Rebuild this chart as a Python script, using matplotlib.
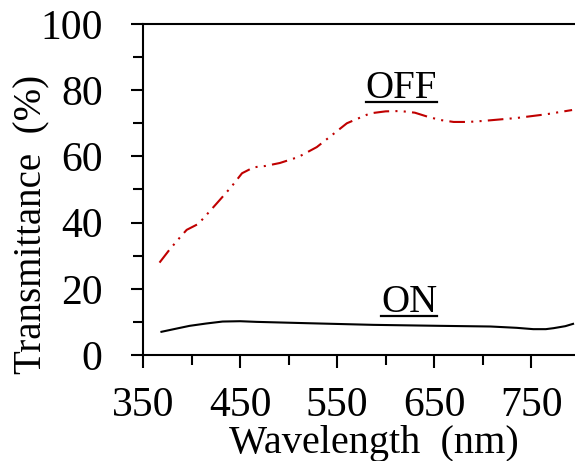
import matplotlib
matplotlib.use("Agg")
from matplotlib import pyplot as plt
from matplotlib.lines import Line2D
from matplotlib.ticker import MultipleLocator

plt.rcParams['font.family'] = ['Liberation Serif', 'DejaVu Serif']

# OFF state (dash-dot-dot, red)
wl_off = [367, 377, 388, 395, 407, 419, 429, 441, 452, 464, 476, 491, 510, 529,
          545, 560, 584, 600, 615, 630, 643, 656, 670, 685, 700, 735, 765, 792]
t_off = [27.9, 31.7, 35.5, 37.8, 39.6, 43.5, 46.8, 50.8, 54.9, 56.7, 57.1, 58.0, 59.8, 62.8,
         66.5, 70.0, 73.0, 73.6, 73.7, 73.2, 72.0, 71.0, 70.4, 70.4, 70.7, 71.6, 72.7, 74.0]

# ON state (solid, black)
wl_on = [369, 385, 398, 415, 432, 450, 467, 519, 587, 656, 708, 735, 752, 765, 773, 785, 793]
t_on = [7.0, 8.0, 8.8, 9.5, 10.1, 10.2, 10.0, 9.6, 9.1, 8.8, 8.6, 8.2, 7.8, 7.8, 8.1, 8.7, 9.4]

fig = plt.figure(figsize=(5.75, 4.61), dpi=100)
ax = fig.add_axes([0.2487, 0.230, 0.7513, 0.718])

ax.plot(wl_off, t_off, color='#C00000', lw=1.5, dashes=(7.5, 3, 1, 3, 1, 3))
ax.plot(wl_on, t_on, color='black', lw=1.5)

ax.set_xlim(350, 795)
ax.set_ylim(0, 100)
ax.set_xticks([350, 450, 550, 650, 750])
ax.xaxis.set_minor_locator(MultipleLocator(50))
ax.yaxis.set_major_locator(MultipleLocator(20))
ax.yaxis.set_minor_locator(MultipleLocator(10))

for s in ['left', 'bottom', 'top']:
    ax.spines[s].set_linewidth(1.5)
ax.spines['right'].set_visible(False)

ax.tick_params(which='major', direction='out', length=9, width=1.5, labelsize=30)
ax.tick_params(which='minor', direction='out', length=7, width=1.5)
ax.tick_params(axis='y', which='major', pad=20)
ax.tick_params(axis='x', which='major', pad=14)
ax.tick_params(top=False, right=False, which='both')

ax.set_xlabel('Wavelength  (nm)', fontsize=29)
ax.set_ylabel('Transmittance  (%)', fontsize=28)
ax.xaxis.set_label_coords(0.535, -0.211)
ax.yaxis.set_label_coords(-0.215, 0.393)

labels = [ax.text(616, 77.6, 'OFF', fontsize=28, ha='center', va='baseline'),
          ax.text(624, 13.0, 'ON', fontsize=28, ha='center', va='baseline')]

# underline the state labels
fig.canvas.draw()
inv = fig.transFigure.inverted()
for t in labels:
    bb = t.get_window_extent()
    base = ax.transData.transform(t.get_position())[1] - 4
    p0 = inv.transform((bb.x0, base))
    p1 = inv.transform((bb.x1, base))
    fig.add_artist(Line2D([p0[0], p1[0]], [p0[1], p1[1]], color='black', lw=1.6))

fig.savefig('out.png', dpi=100)
